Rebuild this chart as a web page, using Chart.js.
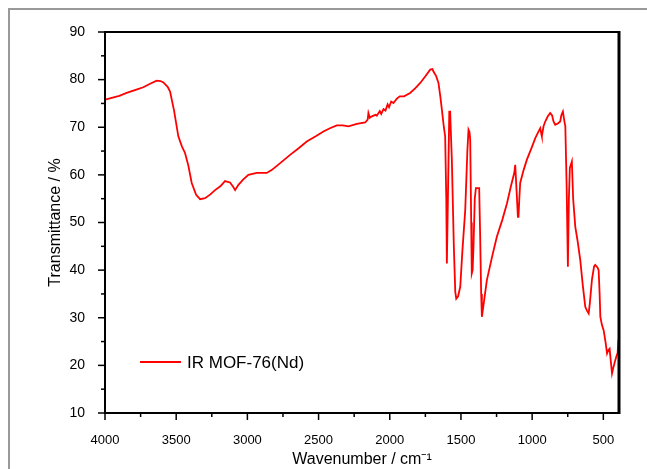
<!DOCTYPE html>
<html>
<head>
<meta charset="utf-8">
<script src="https://cdn.jsdelivr.net/npm/chart.js@4"></script>
<style>
  body { margin: 0; background: #fff; }
  #frame { position: absolute; left: 8px; top: 8px; width: 800px; height: 600px;
           border-left: 2px solid #999; border-top: 2px solid #999; }
  #wrap { position: absolute; left: 0; top: 0; width: 647px; height: 469px; }
</style>
</head>
<body>
<div id="frame"></div>
<div id="wrap"><canvas id="irChart" width="647" height="469"></canvas></div>
<script>
// wavenumber (cm-1) and transmittance (%)
const wavenumbers = [
  4000, 3900, 3848, 3780, 3731, 3680, 3637, 3610, 3590, 3560, 3543, 3515, 3485, 3460, 3438, 3415,
  3391, 3360, 3332, 3297, 3260, 3227, 3190, 3157, 3122, 3100, 3086, 3063, 3030, 2993, 2934, 2864,
  2830, 2793, 2700, 2640, 2583, 2520, 2466, 2420, 2372, 2330, 2290, 2231, 2173, 2155, 2150, 2140,
  2126, 2100, 2091, 2070, 2060, 2044, 2030, 2015, 2005, 1990, 1974, 1950, 1930, 1900, 1857, 1820,
  1786, 1750, 1716, 1700, 1693, 1675, 1658, 1645, 1634, 1620, 1611, 1603, 1599, 1590, 1582, 1576,
  1564, 1550, 1540, 1533, 1520, 1505, 1490, 1470, 1455, 1447, 1440, 1435, 1428, 1424, 1418, 1412,
  1403, 1395, 1380, 1372, 1365, 1358, 1353, 1340, 1318, 1280, 1248, 1210, 1177, 1150, 1125, 1119,
  1110, 1100, 1096, 1090, 1084, 1060, 1037, 1000, 978, 960, 943, 935, 932, 920, 908, 890,
  873, 860, 850, 838, 820, 803, 795, 784, 775, 767, 758, 749, 742, 735, 721, 712,
  697, 680, 662, 645, 627, 615, 603, 595, 580, 565, 557, 540, 533, 526, 521, 510,
  498, 485, 474, 465, 456, 448, 439, 430, 416, 405, 400, 394
];
const transmittance = [
  75.8, 76.6, 77.2, 77.9, 78.4, 79.2, 79.8, 79.7, 79.4, 78.5, 77.5, 73.5, 68.1, 66.0, 64.6, 62.0,
  58.3, 55.8, 54.9, 55.1, 55.9, 56.8, 57.6, 58.7, 58.4, 57.5, 56.8, 57.9, 59.0, 60.0, 60.4, 60.4,
  61.0, 61.9, 64.2, 65.6, 67.0, 68.1, 69.1, 69.8, 70.4, 70.4, 70.2, 70.7, 71.0, 71.6, 73.0, 72.0,
  72.3, 72.6, 72.4, 73.4, 72.8, 73.8, 73.5, 74.8, 74.2, 75.4, 75.1, 76.0, 76.5, 76.5, 77.2, 78.2,
  79.3, 80.7, 82.1, 82.2, 81.7, 80.8, 79.3, 76.5, 73.7, 70.0, 68.1, 55.0, 41.4, 58.0, 73.3, 73.3,
  63.2, 45.0, 35.5, 34.0, 34.5, 36.5, 44.0, 52.6, 65.0, 69.5, 69.0, 67.4, 50.0, 39.3, 40.0, 44.9,
  55.0, 57.2, 57.2, 57.2, 47.0, 35.0, 30.2, 33.0, 37.9, 43.0, 47.0, 50.5, 54.0, 57.5, 60.5, 62.1,
  57.0, 51.2, 51.2, 55.0, 58.3, 61.0, 63.2, 66.0, 67.7, 68.8, 69.8, 68.5, 68.1, 70.2, 71.2, 72.3,
  73.0, 72.5, 71.2, 70.5, 70.8, 71.2, 72.5, 73.3, 71.5, 70.2, 58.0, 40.7, 55.0, 61.5, 62.8, 55.0,
  49.1, 46.0, 42.1, 37.0, 32.3, 31.5, 30.9, 33.0, 38.0, 40.8, 41.1, 40.5, 40.0, 35.0, 30.2, 28.5,
  27.4, 25.0, 22.5, 23.2, 23.5, 21.0, 18.3, 19.5, 21.1, 22.2, 22.5, 25.3
];
const seriesLabel = 'IR MOF-76(Nd)';
const xTitle = 'Wavenumber / cm\u207B\u00B9';
const yTitle = 'Transmittance / %';

const fontFamily = '"Liberation Sans", Arial, sans-serif';

// frame, outward ticks (major long, minor short) and the legend inside the plot
const frameAndLegend = {
    id: 'frameAndLegend',
    afterDraw(chart) {
        const ctx = chart.ctx;
        const a = chart.chartArea;
        const xs = chart.scales.x;
        const ys = chart.scales.y;
        ctx.save();
        ctx.strokeStyle = '#000';
        ctx.lineWidth = 2;
        ctx.strokeRect(a.left, a.top, a.right - a.left, a.bottom - a.top);
        ctx.lineWidth = 3;
        ctx.beginPath();
        ctx.moveTo(a.right, a.top - 1);
        ctx.lineTo(a.right, a.bottom + 1);
        ctx.stroke();

        ctx.lineWidth = 1.5;
        xs.ticks.forEach(t => {
            const px = xs.getPixelForValue(t.value);
            const len = t.value % 500 === 0 ? 7 : 4;
            ctx.beginPath();
            ctx.moveTo(px, a.bottom);
            ctx.lineTo(px, a.bottom + len);
            ctx.stroke();
        });
        ys.ticks.forEach(t => {
            const py = ys.getPixelForValue(t.value);
            const len = t.value % 10 === 0 ? 7 : 4;
            ctx.beginPath();
            ctx.moveTo(a.left - len, py);
            ctx.lineTo(a.left, py);
            ctx.stroke();
        });

        // legend
        const ds = chart.data.datasets[0];
        ctx.strokeStyle = ds.borderColor;
        ctx.lineWidth = 1.8;
        ctx.beginPath();
        ctx.moveTo(140, 362);
        ctx.lineTo(181, 362);
        ctx.stroke();
        ctx.fillStyle = '#000';
        ctx.font = '17px ' + fontFamily;
        ctx.textBaseline = 'middle';
        ctx.fillText(ds.label, 187, 363);
        ctx.restore();
    }
};

const ctx = document.getElementById('irChart').getContext('2d');

new Chart(ctx, {
    type: 'line',
    data: {
        datasets: [{
            label: seriesLabel,
            data: wavenumbers.map((w, i) => ({ x: w, y: transmittance[i] })),
            borderColor: '#ff0000',
            borderWidth: 1.8,
            pointRadius: 0,
            tension: 0,
            fill: false
        }]
    },
    options: {
        responsive: false,
        animation: false,
        devicePixelRatio: 1,
        layout: { padding: { top: 32, right: 28, left: 0, bottom: 0 } },
        plugins: {
            legend: { display: false },
            tooltip: { enabled: false }
        },
        scales: {
            x: {
                type: 'linear',
                reverse: true,
                min: 390,
                max: 4000,
                grid: { display: false },
                border: { display: false },
                ticks: {
                    stepSize: 250,
                    includeBounds: false,
                    autoSkip: false,
                    maxRotation: 0,
                    padding: 12,
                    color: '#000',
                    font: { family: fontFamily, size: 13 },
                    callback: v => v % 500 === 0 ? v : ''
                },
                title: {
                    display: true,
                    text: xTitle,
                    color: '#000',
                    font: { family: fontFamily, size: 16 },
                    padding: { top: 6, bottom: 0 }
                },
                afterFit: scale => { scale.height = 56; }
            },
            y: {
                min: 10,
                max: 90,
                grid: { display: false },
                border: { display: false },
                ticks: {
                    stepSize: 5,
                    autoSkip: false,
                    padding: 12,
                    color: '#000',
                    font: { family: fontFamily, size: 14 },
                    callback: v => v % 10 === 0 ? v : ''
                },
                title: {
                    display: true,
                    text: yTitle,
                    color: '#000',
                    font: { family: fontFamily, size: 16 },
                    padding: { top: 46, bottom: 0 }
                },
                afterFit: scale => { scale.width = 105; }
            }
        }
    },
    plugins: [frameAndLegend]
});
</script>
</body>
</html>
